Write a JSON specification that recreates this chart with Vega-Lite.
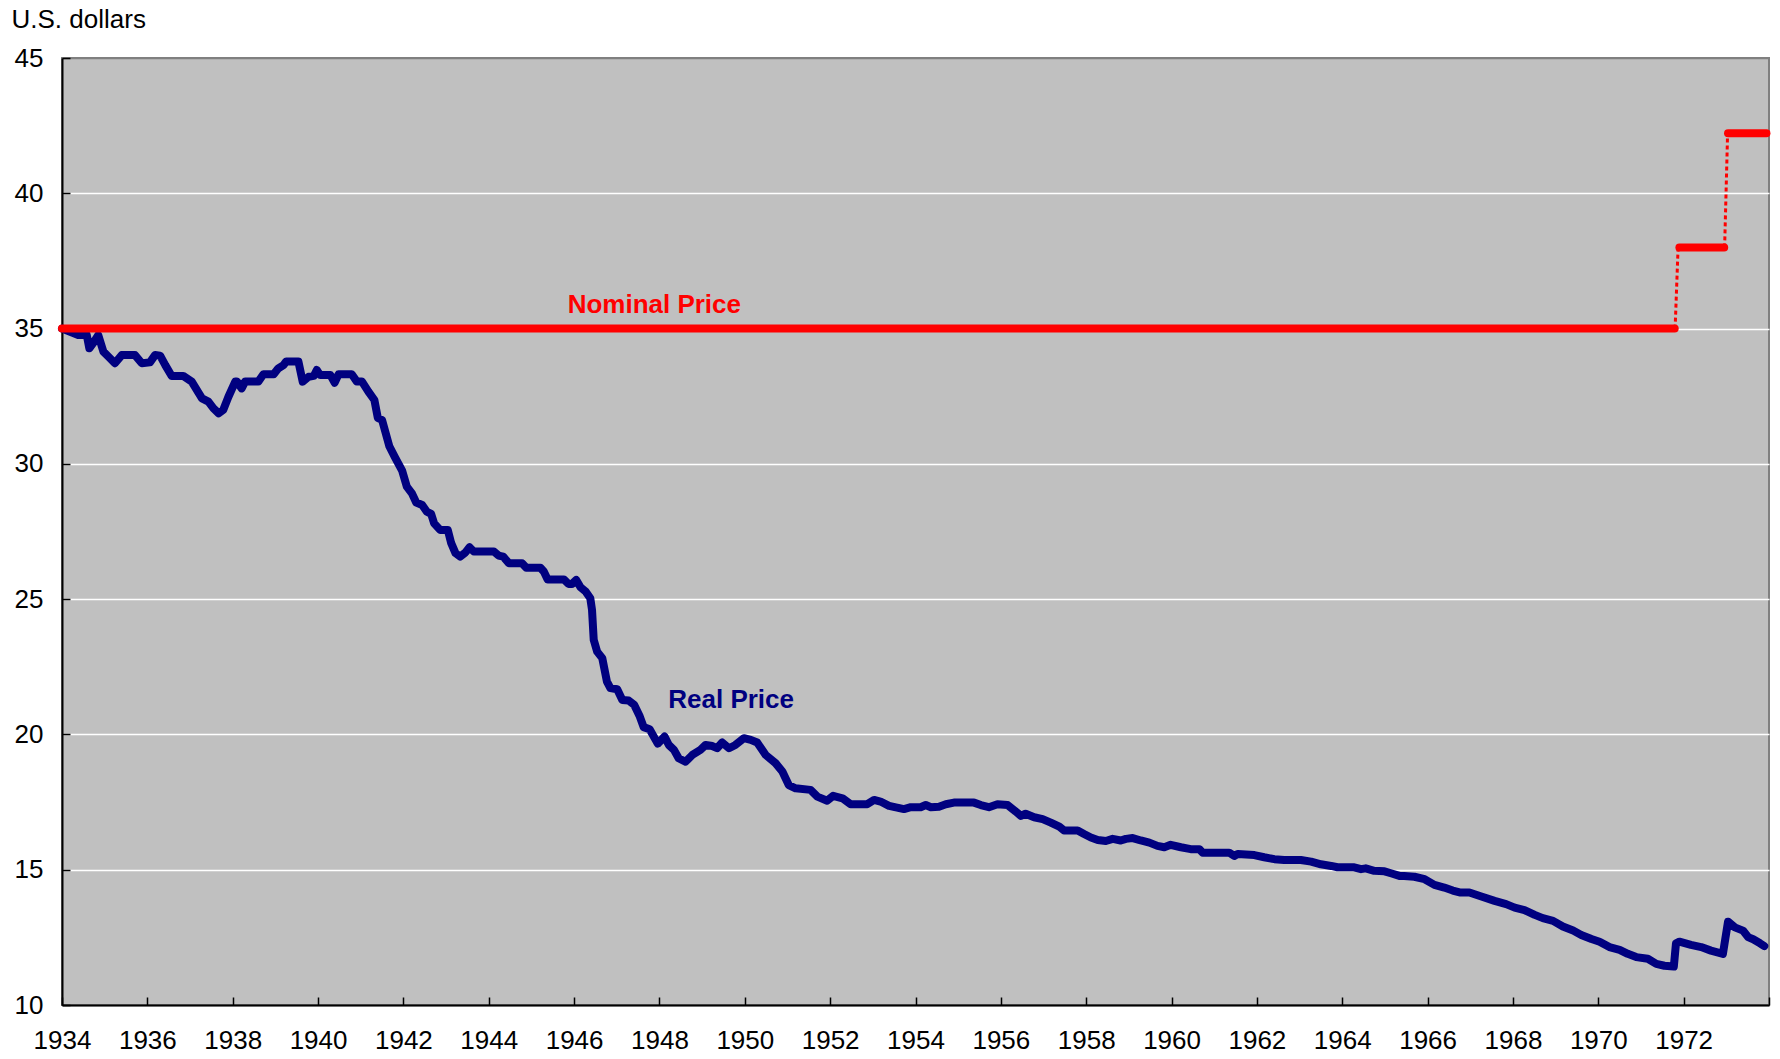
{
  "$schema": "https://vega.github.io/schema/vega-lite/v6.json",
  "width": 1707,
  "height": 947,
  "autosize": {"type": "none"},
  "padding": {"left": 62, "top": 58, "right": 11, "bottom": 54},
  "background": "white",
  "config": {
    "view": {"fill": "#C0C0C0", "stroke": "#808080", "strokeWidth": 2},
    "font": "Liberation Sans"
  },
  "datasets": {
    "real": [
      {"year": 1934.00, "price": 35.00}, {"year": 1934.38, "price": 34.76}, {"year": 1934.58, "price": 34.76},
      {"year": 1934.64, "price": 34.27}, {"year": 1934.73, "price": 34.46}, {"year": 1934.85, "price": 34.76},
      {"year": 1934.97, "price": 34.15}, {"year": 1935.09, "price": 33.96}, {"year": 1935.24, "price": 33.72},
      {"year": 1935.40, "price": 34.02}, {"year": 1935.71, "price": 34.02}, {"year": 1935.87, "price": 33.72},
      {"year": 1936.06, "price": 33.75}, {"year": 1936.18, "price": 34.02}, {"year": 1936.30, "price": 34.00},
      {"year": 1936.42, "price": 33.65}, {"year": 1936.57, "price": 33.25}, {"year": 1936.84, "price": 33.25},
      {"year": 1937.04, "price": 33.04}, {"year": 1937.28, "price": 32.42}, {"year": 1937.43, "price": 32.30},
      {"year": 1937.55, "price": 32.05}, {"year": 1937.67, "price": 31.87}, {"year": 1937.78, "price": 32.00},
      {"year": 1937.90, "price": 32.48}, {"year": 1938.06, "price": 33.04}, {"year": 1938.10, "price": 33.04},
      {"year": 1938.21, "price": 32.79}, {"year": 1938.29, "price": 33.04}, {"year": 1938.60, "price": 33.04},
      {"year": 1938.72, "price": 33.31}, {"year": 1938.96, "price": 33.31}, {"year": 1939.07, "price": 33.53},
      {"year": 1939.19, "price": 33.65}, {"year": 1939.25, "price": 33.78}, {"year": 1939.54, "price": 33.78},
      {"year": 1939.64, "price": 33.04}, {"year": 1939.78, "price": 33.22}, {"year": 1939.90, "price": 33.25},
      {"year": 1939.97, "price": 33.47}, {"year": 1940.05, "price": 33.28}, {"year": 1940.29, "price": 33.28},
      {"year": 1940.39, "price": 33.00}, {"year": 1940.48, "price": 33.31}, {"year": 1940.79, "price": 33.31},
      {"year": 1940.91, "price": 33.04}, {"year": 1941.03, "price": 33.04}, {"year": 1941.18, "price": 32.67},
      {"year": 1941.32, "price": 32.36}, {"year": 1941.40, "price": 31.70}, {"year": 1941.50, "price": 31.62},
      {"year": 1941.67, "price": 30.65}, {"year": 1941.80, "price": 30.25}, {"year": 1941.97, "price": 29.75},
      {"year": 1942.08, "price": 29.16}, {"year": 1942.20, "price": 28.91}, {"year": 1942.30, "price": 28.57},
      {"year": 1942.44, "price": 28.48}, {"year": 1942.55, "price": 28.23}, {"year": 1942.65, "price": 28.15},
      {"year": 1942.72, "price": 27.80}, {"year": 1942.86, "price": 27.56}, {"year": 1943.04, "price": 27.56},
      {"year": 1943.12, "price": 27.07}, {"year": 1943.22, "price": 26.70}, {"year": 1943.33, "price": 26.57},
      {"year": 1943.45, "price": 26.72}, {"year": 1943.55, "price": 26.92}, {"year": 1943.65, "price": 26.76},
      {"year": 1944.12, "price": 26.76}, {"year": 1944.23, "price": 26.61}, {"year": 1944.34, "price": 26.57},
      {"year": 1944.47, "price": 26.33}, {"year": 1944.78, "price": 26.33}, {"year": 1944.88, "price": 26.16},
      {"year": 1945.21, "price": 26.16}, {"year": 1945.29, "price": 26.02}, {"year": 1945.38, "price": 25.73},
      {"year": 1945.76, "price": 25.73}, {"year": 1945.87, "price": 25.56}, {"year": 1945.95, "price": 25.56},
      {"year": 1946.05, "price": 25.71}, {"year": 1946.15, "price": 25.44}, {"year": 1946.27, "price": 25.28},
      {"year": 1946.38, "price": 25.03}, {"year": 1946.42, "price": 24.60}, {"year": 1946.46, "price": 23.49},
      {"year": 1946.54, "price": 23.06}, {"year": 1946.66, "price": 22.82}, {"year": 1946.77, "price": 21.95},
      {"year": 1946.85, "price": 21.71}, {"year": 1947.01, "price": 21.67}, {"year": 1947.13, "price": 21.27},
      {"year": 1947.28, "price": 21.25}, {"year": 1947.41, "price": 21.09}, {"year": 1947.54, "price": 20.66},
      {"year": 1947.63, "price": 20.27}, {"year": 1947.77, "price": 20.19}, {"year": 1947.96, "price": 19.66},
      {"year": 1948.12, "price": 19.92}, {"year": 1948.22, "price": 19.61}, {"year": 1948.34, "price": 19.43},
      {"year": 1948.45, "price": 19.12}, {"year": 1948.61, "price": 18.99}, {"year": 1948.77, "price": 19.24},
      {"year": 1948.96, "price": 19.43}, {"year": 1949.08, "price": 19.61}, {"year": 1949.24, "price": 19.57},
      {"year": 1949.35, "price": 19.49}, {"year": 1949.47, "price": 19.70}, {"year": 1949.63, "price": 19.49},
      {"year": 1949.78, "price": 19.61}, {"year": 1949.98, "price": 19.86}, {"year": 1950.14, "price": 19.80},
      {"year": 1950.29, "price": 19.70}, {"year": 1950.49, "price": 19.24}, {"year": 1950.72, "price": 18.94},
      {"year": 1950.88, "price": 18.63}, {"year": 1951.03, "price": 18.13}, {"year": 1951.19, "price": 18.01},
      {"year": 1951.54, "price": 17.95}, {"year": 1951.70, "price": 17.70}, {"year": 1951.93, "price": 17.55},
      {"year": 1952.07, "price": 17.73}, {"year": 1952.29, "price": 17.64}, {"year": 1952.48, "price": 17.42},
      {"year": 1952.87, "price": 17.42}, {"year": 1953.03, "price": 17.58}, {"year": 1953.18, "price": 17.52},
      {"year": 1953.38, "price": 17.36}, {"year": 1953.73, "price": 17.24}, {"year": 1953.89, "price": 17.31},
      {"year": 1954.12, "price": 17.31}, {"year": 1954.24, "price": 17.39}, {"year": 1954.36, "price": 17.31},
      {"year": 1954.55, "price": 17.33}, {"year": 1954.71, "price": 17.42}, {"year": 1954.90, "price": 17.48},
      {"year": 1955.37, "price": 17.48}, {"year": 1955.53, "price": 17.39}, {"year": 1955.72, "price": 17.31},
      {"year": 1955.92, "price": 17.42}, {"year": 1956.16, "price": 17.39}, {"year": 1956.35, "price": 17.15},
      {"year": 1956.47, "price": 16.99}, {"year": 1956.58, "price": 17.07}, {"year": 1956.78, "price": 16.94},
      {"year": 1956.98, "price": 16.87}, {"year": 1957.17, "price": 16.74}, {"year": 1957.37, "price": 16.59},
      {"year": 1957.48, "price": 16.45}, {"year": 1957.80, "price": 16.45}, {"year": 1957.95, "price": 16.32},
      {"year": 1958.11, "price": 16.19}, {"year": 1958.27, "price": 16.10}, {"year": 1958.46, "price": 16.06},
      {"year": 1958.62, "price": 16.14}, {"year": 1958.81, "price": 16.08}, {"year": 1958.93, "price": 16.14},
      {"year": 1959.09, "price": 16.17}, {"year": 1959.28, "price": 16.08}, {"year": 1959.48, "price": 16.00},
      {"year": 1959.67, "price": 15.88}, {"year": 1959.83, "price": 15.83}, {"year": 1959.98, "price": 15.92},
      {"year": 1960.22, "price": 15.83}, {"year": 1960.45, "price": 15.76}, {"year": 1960.65, "price": 15.76},
      {"year": 1960.73, "price": 15.63}, {"year": 1961.35, "price": 15.63}, {"year": 1961.47, "price": 15.51},
      {"year": 1961.55, "price": 15.58}, {"year": 1961.94, "price": 15.54}, {"year": 1962.17, "price": 15.46},
      {"year": 1962.41, "price": 15.39}, {"year": 1962.64, "price": 15.36}, {"year": 1963.03, "price": 15.36},
      {"year": 1963.27, "price": 15.30}, {"year": 1963.50, "price": 15.20}, {"year": 1963.74, "price": 15.14},
      {"year": 1963.89, "price": 15.09}, {"year": 1964.28, "price": 15.09}, {"year": 1964.44, "price": 15.02},
      {"year": 1964.55, "price": 15.05}, {"year": 1964.75, "price": 14.96}, {"year": 1964.99, "price": 14.94},
      {"year": 1965.14, "price": 14.87}, {"year": 1965.34, "price": 14.77}, {"year": 1965.45, "price": 14.77},
      {"year": 1965.69, "price": 14.74}, {"year": 1965.93, "price": 14.65}, {"year": 1966.16, "price": 14.44},
      {"year": 1966.39, "price": 14.34}, {"year": 1966.59, "price": 14.23}, {"year": 1966.75, "price": 14.16},
      {"year": 1966.98, "price": 14.16}, {"year": 1967.26, "price": 14.01}, {"year": 1967.57, "price": 13.85},
      {"year": 1967.84, "price": 13.73}, {"year": 1968.04, "price": 13.60}, {"year": 1968.27, "price": 13.51},
      {"year": 1968.51, "price": 13.33}, {"year": 1968.70, "price": 13.21}, {"year": 1968.94, "price": 13.11},
      {"year": 1969.17, "price": 12.90}, {"year": 1969.41, "price": 12.75}, {"year": 1969.60, "price": 12.59},
      {"year": 1969.84, "price": 12.44}, {"year": 1970.03, "price": 12.34}, {"year": 1970.26, "price": 12.14},
      {"year": 1970.50, "price": 12.04}, {"year": 1970.69, "price": 11.89}, {"year": 1970.89, "price": 11.77},
      {"year": 1971.16, "price": 11.71}, {"year": 1971.36, "price": 11.52}, {"year": 1971.55, "price": 11.45},
      {"year": 1971.77, "price": 11.42}, {"year": 1971.82, "price": 12.28}, {"year": 1971.90, "price": 12.34},
      {"year": 1972.17, "price": 12.22}, {"year": 1972.41, "price": 12.14}, {"year": 1972.64, "price": 12.01},
      {"year": 1972.92, "price": 11.89}, {"year": 1973.04, "price": 13.08}, {"year": 1973.20, "price": 12.87},
      {"year": 1973.39, "price": 12.75}, {"year": 1973.51, "price": 12.51}, {"year": 1973.63, "price": 12.43},
      {"year": 1973.79, "price": 12.28}, {"year": 1973.89, "price": 12.18}
    ],
    "nominal": [
      {"seg": "a", "year": 1934.0, "price": 35.0}, {"seg": "a", "year": 1971.79, "price": 35.0},
      {"seg": "b", "year": 1971.90, "price": 38.0}, {"seg": "b", "year": 1972.95, "price": 38.0},
      {"seg": "c", "year": 1973.04, "price": 42.22}, {"seg": "c", "year": 1973.94, "price": 42.22}
    ],
    "jumps": [
      {"seg": "j1", "year": 1971.80, "price": 35.0}, {"seg": "j1", "year": 1971.87, "price": 38.0},
      {"seg": "j2", "year": 1972.96, "price": 38.0}, {"seg": "j2", "year": 1973.03, "price": 42.22}
    ],
    "labels": [
      {"label": "Nominal Price", "year": 1947.88, "price": 35.59},
      {"label": "Real Price", "year": 1949.68, "price": 20.97}
    ]
  },
  "layer": [
    {
      "data": {"name": "real"},
      "mark": {"type": "line", "color": "#000080", "strokeWidth": 8, "strokeCap": "round", "strokeJoin": "round"},
      "encoding": {
        "x": {
          "field": "year", "type": "quantitative",
          "scale": {"domain": [1934, 1974], "nice": false, "zero": false},
          "axis": {
            "values": [1934, 1936, 1938, 1940, 1942, 1944, 1946, 1948, 1950, 1952, 1954, 1956, 1958, 1960, 1962, 1964, 1966, 1968, 1970, 1972, 1974],
            "labelExpr": "datum.value == 1974 ? '' : format(datum.value, 'd')",
            "title": null, "grid": false,
            "domainColor": "#000000", "domainWidth": 2,
            "tickColor": "#000000", "tickWidth": 1.5, "tickSize": -8,
            "labelFontSize": 26, "labelColor": "#000000", "labelPadding": 30,
            "labelFont": "Liberation Sans", "labelFlush": false, "labelOverlap": false
          }
        },
        "y": {
          "field": "price", "type": "quantitative",
          "scale": {"domain": [10, 45], "nice": false, "zero": false},
          "axis": {
            "values": [10, 15, 20, 25, 30, 35, 40, 45],
            "title": "U.S. dollars", "titleAngle": 0, "titleX": -51, "titleY": -31,
            "titleAlign": "left", "titleBaseline": "alphabetic", "titleFontSize": 26,
            "titleFontWeight": "normal", "titleColor": "#000000", "titleFont": "Liberation Sans",
            "grid": true,
            "gridColor": {"condition": {"test": "datum.value == 45 || datum.value == 10", "value": "#808080"}, "value": "#FFFFFF"},
            "gridWidth": 1.5,
            "domainColor": "#000000", "domainWidth": 2,
            "tickColor": "#000000", "tickWidth": 1.5, "tickSize": -8,
            "labelFontSize": 26, "labelColor": "#000000", "labelPadding": 27,
            "labelFont": "Liberation Sans", "labelFlush": false, "labelOverlap": false
          }
        }
      }
    },
    {
      "data": {"name": "nominal"},
      "mark": {"type": "line", "color": "#FF0000", "strokeWidth": 8, "strokeCap": "round"},
      "encoding": {
        "x": {"field": "year", "type": "quantitative"},
        "y": {"field": "price", "type": "quantitative"},
        "detail": {"field": "seg", "type": "nominal"}
      }
    },
    {
      "data": {"name": "jumps"},
      "mark": {"type": "line", "color": "#FF0000", "strokeWidth": 3, "strokeDash": [4, 3]},
      "encoding": {
        "x": {"field": "year", "type": "quantitative"},
        "y": {"field": "price", "type": "quantitative"},
        "detail": {"field": "seg", "type": "nominal"}
      }
    },
    {
      "data": {"name": "labels"},
      "mark": {"type": "text", "fontSize": 26, "fontWeight": "bold", "font": "Liberation Sans", "align": "center", "baseline": "alphabetic"},
      "encoding": {
        "x": {"field": "year", "type": "quantitative"},
        "y": {"field": "price", "type": "quantitative"},
        "text": {"field": "label", "type": "nominal"},
        "color": {"field": "label", "type": "nominal", "scale": {"domain": ["Nominal Price", "Real Price"], "range": ["#FF0000", "#000080"]}, "legend": null}
      }
    }
  ]
}
